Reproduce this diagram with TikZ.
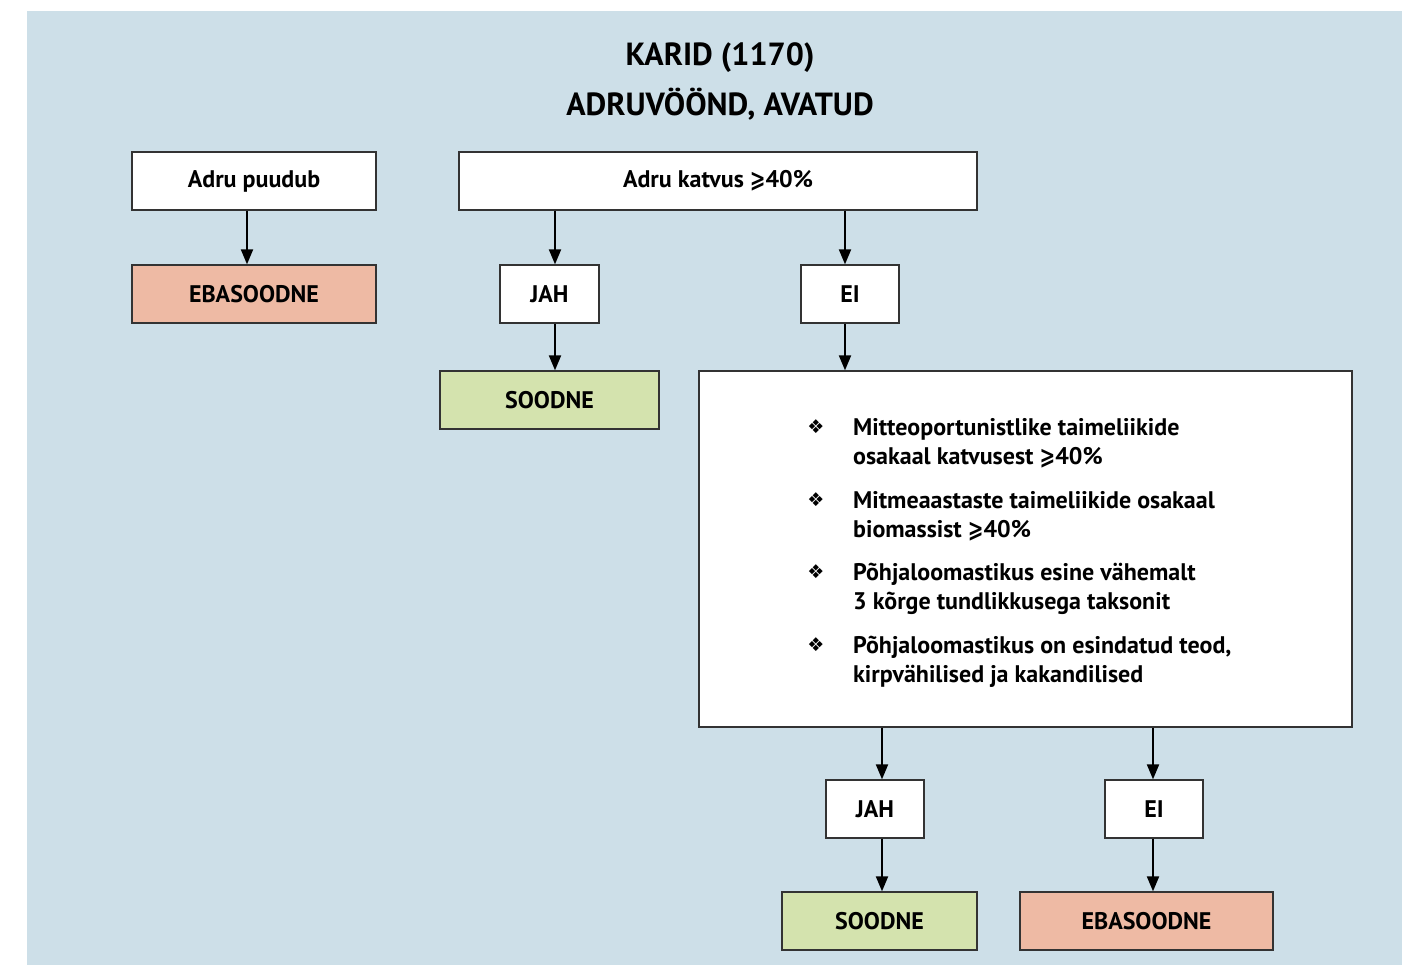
\documentclass[tikz,border=0pt]{standalone}
\usepackage{graphicx}
\usepackage{fontspec}
\setmainfont{PT Sans}
\newfontfamily\symfont{DejaVu Sans}
\usetikzlibrary{arrows.meta}
\definecolor{bgblue}{HTML}{CDDFE8}
\definecolor{badfill}{HTML}{EEBAA4}
\definecolor{goodfill}{HTML}{D4E3AE}
\definecolor{edge}{HTML}{333333}
\newcommand{\gq}{\scalebox{0.78}[1]{\symfont\bfseries ⩾}}
\begin{document}
\begin{tikzpicture}[x=1pt,y=-1pt,
  box/.style={draw=edge,line width=1.3pt,fill=white,inner sep=0pt,font=\fontsize{24}{28}\selectfont\bfseries},
  bad/.style={box,fill=badfill},
  good/.style={box,fill=goodfill},
  arr/.style={line width=2pt,-{Triangle[length=15pt,width=12pt]}},
  btxt/.style={font=\fontsize{24}{29}\selectfont\bfseries,anchor=west,align=left,inner sep=0pt},
  ttl/.style={font=\fontsize{32}{36}\selectfont\bfseries},
  bul/.style={font=\symfont\fontsize{19}{22}\selectfont}
]
\useasboundingbox (0,0) rectangle (1402,965);
\fill[bgblue] (27,11) rectangle (1402,965);
% title
\node[ttl] (t1) at (720,58) {KARID (1170)};
\node[ttl] (t2) at (720,104) {ADRUVÖÖND, AVATUD};
% boxes
\node[box,minimum width=244pt,minimum height=58pt] (puudub) at (254,181) {Adru puudub};
\node[bad,minimum width=244pt,minimum height=58pt] (eba1) at (254,294) {EBASOODNE};
\node[box,minimum width=518pt,minimum height=58pt] (katvus) at (718,181) {Adru katvus \gq40\%};
\node[box,minimum width=99pt,minimum height=58pt] (jah1) at (549.5,294) {JAH};
\node[box,minimum width=98pt,minimum height=58pt] (ei1) at (850,294) {EI};
\node[good,minimum width=219pt,minimum height=58pt] (sood1) at (549.5,400) {SOODNE};
\node[box,minimum width=653pt,minimum height=356pt] (big) at (1025.5,549) {};
\node[box,minimum width=98pt,minimum height=58pt] (jah2) at (875,809) {JAH};
\node[box,minimum width=98pt,minimum height=58pt] (ei2) at (1154,809) {EI};
\node[good,minimum width=195pt,minimum height=58pt] (sood2) at (879.5,921) {SOODNE};
\node[bad,minimum width=253pt,minimum height=58pt] (eba2) at (1146.5,921) {EBASOODNE};
% bullet list
\foreach \y/\name in {427/b1,500/b2,572/b3,645/b4}
  \node[bul] (\name) at (816,\y) {❖};
\node[btxt] (l1) at (853,443.5) {Mitteoportunistlike taimeliikide\\osakaal katvusest \gq40\%};
\node[btxt] (l2) at (853,516) {Mitmeaastaste taimeliikide osakaal\\biomassist \gq40\%};
\node[btxt] (l3) at (853,588.5) {Põhjaloomastikus esine vähemalt\\3 kõrge tundlikkusega taksonit};
\node[btxt] (l4) at (853,661.5) {Põhjaloomastikus on esindatud teod,\\kirpvähilised ja kakandilised};
% arrows
\draw[arr] (puudub.south -| 247,0) -- (eba1.north -| 247,0);
\draw[arr] (katvus.south -| 555,0) -- (jah1.north -| 555,0);
\draw[arr] (katvus.south -| 845,0) -- (ei1.north -| 845,0);
\draw[arr] (jah1.south -| 555,0) -- (sood1.north -| 555,0);
\draw[arr] (ei1.south -| 845,0) -- (big.north -| 845,0);
\draw[arr] (big.south -| 882,0) -- (jah2.north -| 882,0);
\draw[arr] (big.south -| 1153,0) -- (ei2.north -| 1153,0);
\draw[arr] (jah2.south -| 882,0) -- (sood2.north -| 882,0);
\draw[arr] (ei2.south -| 1153,0) -- (eba2.north -| 1153,0);
\end{tikzpicture}
\end{document}
